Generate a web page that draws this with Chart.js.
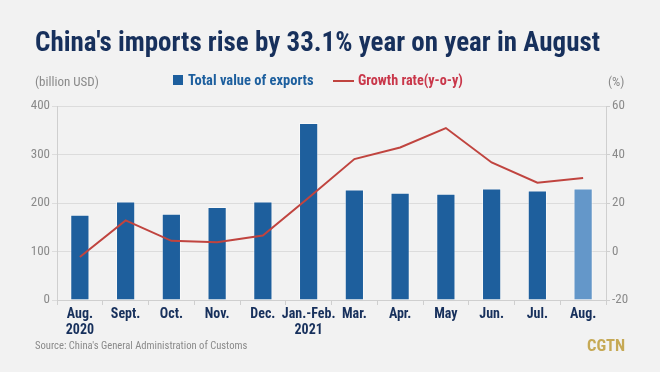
<!DOCTYPE html>
<html>
<head>
<meta charset="utf-8">
<script src="https://cdn.jsdelivr.net/npm/chart.js@4"></script>
<style>
    html, body { margin: 0; padding: 0; background: #f2f2f2; }
    #wrap { position: relative; width: 660px; height: 372px; overflow: hidden;
        font-family: "Roboto Condensed", "DejaVu Sans Condensed", "Liberation Sans Narrow", sans-serif; }
    #chart { position: absolute; left: 0; top: 0; }
    .txt { position: absolute; white-space: nowrap; }
    #title { left: 35px; top: 26px; font-size: 27px; font-weight: bold; color: #17305c; }
    #unitL { left: 35px; top: 74px; font-size: 13px; color: #8a8a8a; }
    #unitR { left: 608px; top: 74px; font-size: 13px; color: #8a8a8a; }
    #legBar { left: 173px; top: 72px; font-size: 14.5px; font-weight: bold; color: #1d5f9e; }
    #legBar i { display: inline-block; width: 10px; height: 10px; background: #1d5f9e; margin-right: 5px; }
    #legLine { left: 333px; top: 72px; font-size: 14.2px; font-weight: bold; color: #c9374a; }
    #legLine i { display: inline-block; width: 21px; height: 2px; background: #c0443f; margin-right: 4px; vertical-align: middle; }
    #source { left: 35px; top: 339px; font-size: 10.6px; color: #8a8a8a; }
    #logo { left: 587px; top: 336px; font-size: 16.5px; font-weight: bold; color: #c6a955; }
</style>
</head>
<body>
<div id="wrap">
    <canvas id="chart" width="660" height="372"></canvas>
    <div class="txt" id="title">China's imports rise by 33.1% year on year in August</div>
    <div class="txt" id="unitL">(billion USD)</div>
    <div class="txt" id="legBar"><i></i>Total value of exports</div>
    <div class="txt" id="legLine"><i></i>Growth rate(y-o-y)</div>
    <div class="txt" id="unitR">(%)</div>
    <div class="txt" id="source">Source: China's General Administration of Customs</div>
    <div class="txt" id="logo">CGTN</div>
</div>
<script>
    const months = [
        ['Aug.', '2020'], 'Sept.', 'Oct.', 'Nov.', 'Dec.', ['Jan.-Feb.', '2021'],
        'Mar.', 'Apr.', 'May', 'Jun.', 'Jul.', 'Aug.'
    ];
    const exportValues = [176, 203, 178, 192, 203, 365, 228, 221, 219, 230, 226, 230];
    const growthRates = [-2.3, 12.8, 4.4, 3.8, 6.6, 22.2, 38.1, 42.9, 50.9, 36.7, 28.4, 30.3];
    const leftTicks = [0, 100, 200, 300, 400];
    const rightTicks = [-20, 0, 20, 40, 60];

    const fontFamily = '"Roboto Condensed", "DejaVu Sans Condensed", "Liberation Sans Narrow", sans-serif';
    const barColors = exportValues.map(function (v, i) {
        return i === exportValues.length - 1 ? '#6497c9' : '#1e5f9d';
    });

    new Chart(document.getElementById('chart'), {
        data: {
            labels: months,
            datasets: [{
                type: 'line',
                label: 'Growth rate(y-o-y)',
                data: growthRates,
                yAxisID: 'yR',
                borderColor: '#c0443f',
                borderWidth: 2,
                pointRadius: 0,
                tension: 0,
                order: 0,
            }, {
                type: 'bar',
                label: 'Total value of exports',
                data: exportValues,
                yAxisID: 'yL',
                backgroundColor: barColors,
                borderColor: 'rgba(255,255,255,0.5)',
                borderWidth: 1,
                categoryPercentage: 1,
                barPercentage: 0.42,
                order: 1,
            }],
        },
        options: {
            responsive: false,
            animation: false,
            layout: { padding: { top: 106, bottom: 32, left: 0, right: 0 } },
            plugins: { legend: { display: false }, tooltip: { enabled: false } },
            scales: {
                x: {
                    offset: true,
                    grid: { drawOnChartArea: false, drawTicks: true, tickLength: 5, color: '#cfcfcf', offset: true },
                    border: { color: '#cfcfcf' },
                    ticks: {
                        color: '#17305c', padding: 1, maxRotation: 0, autoSkip: false,
                        font: { family: fontFamily, size: 14, weight: 'bold', lineHeight: 1.15 },
                    },
                    afterFit: function (s) { s.height = 40; },
                },
                yL: {
                    position: 'left',
                    min: 0, max: 400,
                    afterBuildTicks: function (s) { s.ticks = leftTicks.map(function (v) { return { value: v }; }); },
                    grid: { color: '#dcdcdc', tickLength: 5 },
                    border: { color: '#cfcfcf' },
                    ticks: { color: '#8a8a8a', padding: 2, font: { family: fontFamily, size: 13 } },
                    afterFit: function (s) { s.width = 57; },
                },
                yR: {
                    position: 'right',
                    min: -20, max: 60,
                    afterBuildTicks: function (s) { s.ticks = rightTicks.map(function (v) { return { value: v }; }); },
                    grid: { drawOnChartArea: false, color: '#cfcfcf', tickLength: 4 },
                    border: { color: '#cfcfcf' },
                    ticks: { color: '#8a8a8a', padding: 2, font: { family: fontFamily, size: 13 } },
                    afterFit: function (s) { s.width = 54; },
                },
            },
        },
    });
</script>
</body>
</html>
